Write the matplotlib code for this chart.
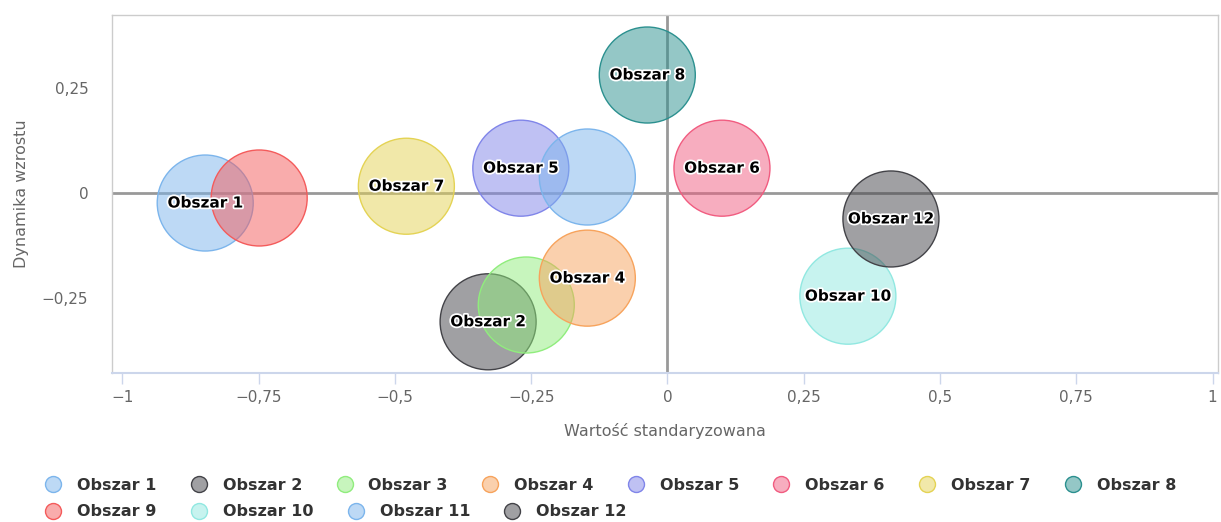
import matplotlib
matplotlib.use("Agg")
import matplotlib.pyplot as plt
import matplotlib.patheffects as pe
from matplotlib.lines import Line2D
from matplotlib.ticker import FuncFormatter

# data
names = ["Obszar 1", "Obszar 2", "Obszar 3", "Obszar 4", "Obszar 5", "Obszar 6",
         "Obszar 7", "Obszar 8", "Obszar 9", "Obszar 10", "Obszar 11", "Obszar 12"]
x_vals = [-0.848, -0.329, -0.259, -0.147, -0.269, 0.100,
          -0.479, -0.037, -0.749, 0.331, -0.147, 0.410]
y_vals = [-0.023, -0.306, -0.266, -0.202, 0.060, 0.060,
          0.017, 0.282, -0.011, -0.245, 0.039, -0.061]
# labels Highcharts kept visible (others hidden by overlap)
shown_labels = ["Obszar 1", "Obszar 2", "Obszar 4", "Obszar 5", "Obszar 6",
                "Obszar 7", "Obszar 8", "Obszar 10", "Obszar 12"]
colors = ["#7cb5ec", "#434348", "#90ed7d", "#f7a35c", "#8085e9", "#f15c80",
          "#e4d354", "#2b908f", "#f45b5b", "#91e8e1", "#7cb5ec", "#434348"]

x_ticks = [-1, -0.75, -0.5, -0.25, 0, 0.25, 0.5, 0.75, 1]
y_ticks = [-0.25, 0, 0.25]

W, H = 1221, 522
fig = plt.figure(figsize=(W / 100, H / 100), dpi=100)
ax = fig.add_axes([112 / W, (H - 373) / H, (1218 - 112) / W, (373 - 15) / H])

# bubble size: radius ~48 px
diam_pt = 96 * 72 / 100
for i, name in enumerate(names):
    ax.scatter(x_vals[i], y_vals[i], s=diam_pt ** 2, facecolor=colors[i], alpha=0.5,
               edgecolor="none", zorder=3 + i * 0.01)
    ax.scatter(x_vals[i], y_vals[i], s=diam_pt ** 2, facecolor="none",
               edgecolor=colors[i], linewidth=1.0, zorder=3 + i * 0.01)

for i, name in enumerate(names):
    if name in shown_labels:
        ax.text(x_vals[i], y_vals[i], name, ha="center", va="center", fontsize=11,
                fontweight="bold", color="black", zorder=10,
                path_effects=[pe.withStroke(linewidth=2.5, foreground="white")])

ax.axhline(0, color="#999999", linewidth=2, zorder=2)
ax.axvline(0, color="#999999", linewidth=2, zorder=2)

ax.set_xlim(-1.019, 1.01)
ax.set_ylim(-0.428, 0.425)
ax.set_xticks(x_ticks)
ax.set_yticks(y_ticks)


def pl_fmt(v, pos):
    s = ("%g" % v).replace(".", ",")
    return s.replace("-", "\u2212")


ax.xaxis.set_major_formatter(FuncFormatter(pl_fmt))
ax.yaxis.set_major_formatter(FuncFormatter(pl_fmt))
ax.tick_params(axis="x", length=8, width=1, color="#ccd6eb", labelsize=11,
               labelcolor="#666666", pad=4)
ax.tick_params(axis="y", length=0, labelsize=11, labelcolor="#666666", pad=17)

for side in ["top", "left", "right"]:
    ax.spines[side].set_color("#cccccc")
    ax.spines[side].set_linewidth(1)
ax.spines["bottom"].set_color("#ccd6eb")
ax.spines["bottom"].set_linewidth(1.5)

ax.set_xlabel("Warto\u015b\u0107 standaryzowana", fontsize=11.5, color="#666666", labelpad=13.5)
ax.set_ylabel("Dynamika wzrostu", fontsize=11.5, color="#666666", labelpad=9)

handles = [Line2D([], [], linestyle="none", marker="o", markersize=11.5,
                  markerfacecolor=matplotlib.colors.to_rgba(c, 0.5),
                  markeredgecolor=c, markeredgewidth=1) for c in colors]

leg_kw = dict(frameon=False, prop={"weight": "bold", "size": 11.5}, labelcolor="#333333",
              handlelength=1.4, handletextpad=0.8, borderpad=0, borderaxespad=0,
              columnspacing=1.95, loc="center left")
leg1 = fig.legend(handles[:8], names[:8], ncol=8,
                  bbox_to_anchor=(42 / W, 1 - 485 / H), **leg_kw)
leg2 = fig.legend(handles[8:], names[8:], ncol=4,
                  bbox_to_anchor=(42 / W, 1 - 512 / H), **leg_kw)

fig.savefig("out.png", dpi=100)
